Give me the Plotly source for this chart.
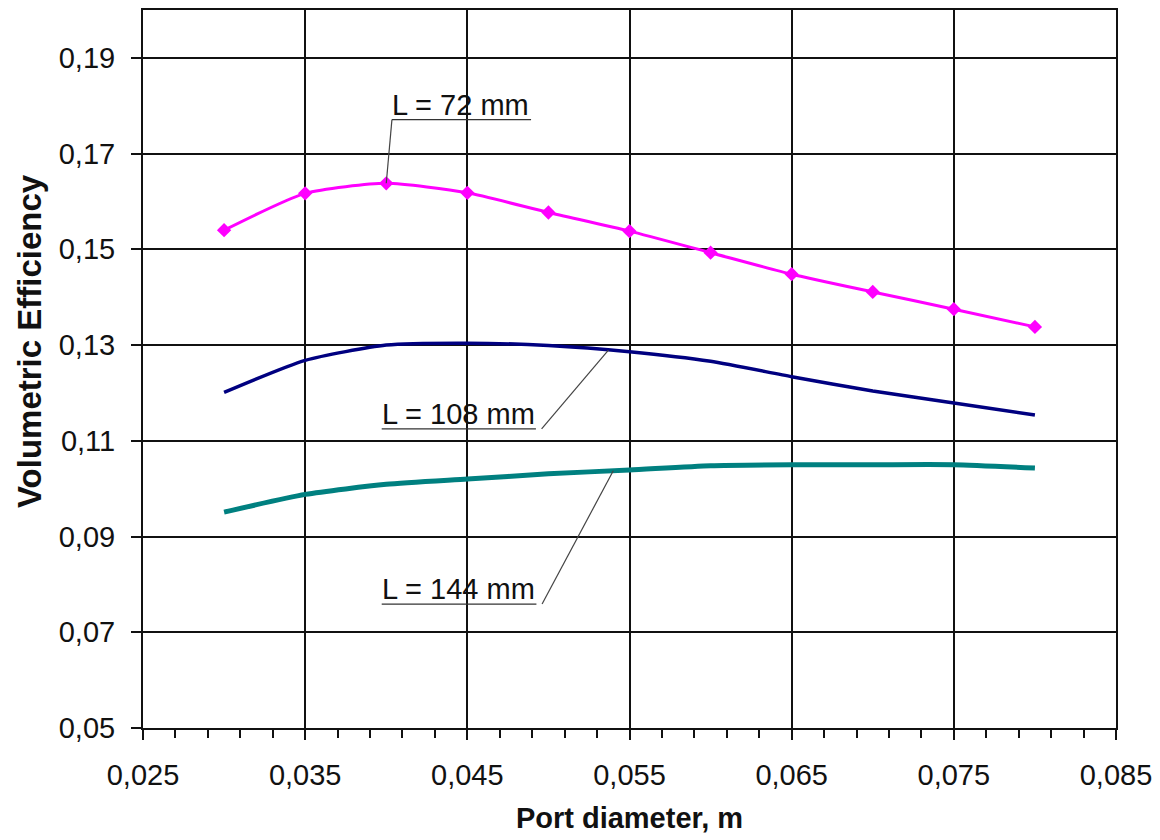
import numpy as np
import plotly.graph_objects as go

# Data
port_diameter = [0.030, 0.035, 0.040, 0.045, 0.050, 0.055, 0.060, 0.065, 0.070, 0.075, 0.080]
ve_72 = [0.1540, 0.1617, 0.1638, 0.1618, 0.1577, 0.1538, 0.1493, 0.1448, 0.1411, 0.1375, 0.1338]
ve_108 = [0.1201, 0.1268, 0.1300, 0.1304, 0.1299, 0.1286, 0.1266, 0.1234, 0.1204, 0.1179, 0.1154]
ve_144 = [0.0951, 0.0988, 0.1009, 0.1020, 0.1031, 0.1039, 0.1048, 0.1050, 0.1050, 0.1050, 0.1043]

series_names = ["L = 72 mm", "L = 108 mm", "L = 144 mm"]
x_ticks = [0.025, 0.035, 0.045, 0.055, 0.065, 0.075, 0.085]
y_ticks = [0.05, 0.07, 0.09, 0.11, 0.13, 0.15, 0.17, 0.19]

FONT = "Liberation Sans, Arial, sans-serif"

fig = go.Figure()
fig.add_trace(go.Scatter(x=port_diameter, y=ve_72, mode="lines+markers", name=series_names[0],
                         line=dict(color="#FF00FF", width=3, shape="spline", smoothing=0.6),
                         marker=dict(symbol="diamond", size=11, color="#FF00FF")))
fig.add_trace(go.Scatter(x=port_diameter, y=ve_108, mode="lines", name=series_names[1],
                         line=dict(color="#000080", width=3.5, shape="spline", smoothing=0.6)))
fig.add_trace(go.Scatter(x=port_diameter, y=ve_144, mode="lines", name=series_names[2],
                         line=dict(color="#008080", width=5, shape="spline", smoothing=0.6)))

# Label layout: (text, underline x0, underline x1, underline y, leader x on curve, series, leader from left?)
labels = [
    (series_names[0], 0.04035, 0.04893, 0.1771, 0.040, ve_72, True),
    (series_names[1], 0.03972, 0.04923, 0.1125, 0.0537, ve_108, False),
    (series_names[2], 0.03972, 0.04926, 0.0759, 0.0540, ve_144, False),
]
for text, ux0, ux1, uy, lx, ys, from_left in labels:
    ly = float(np.interp(lx, port_diameter, ys))
    fig.add_shape(type="line", x0=ux0, x1=ux1, y0=uy, y1=uy, xref="x", yref="y",
                  line=dict(color="#333333", width=1.3))
    sx = ux0 if from_left else ux1 + 0.00035
    fig.add_shape(type="line", x0=sx, x1=lx, y0=uy, y1=ly, xref="x", yref="y",
                  line=dict(color="#444444", width=1.2))
    fig.add_annotation(x=ux0, y=uy, xref="x", yref="y", text=text, showarrow=False,
                       xanchor="left", yanchor="bottom", yshift=-3, xshift=-2,
                       font=dict(family=FONT, size=29, color="#111111"))

# Y-axis title as rotated annotation (positioned as in the reference)
fig.add_annotation(x=0, y=0.539, xref="paper", yref="paper", xanchor="center", yanchor="middle",
                   xshift=-113, text="<b>Volumetric Efficiency</b>", textangle=-90, showarrow=False,
                   font=dict(family=FONT, size=33, color="#111111"))

fig.update_layout(
    width=1160, height=840,
    margin=dict(l=135, r=52, t=2, b=120, autoexpand=False),
    paper_bgcolor="white", plot_bgcolor="white",
    separators=", ",
    showlegend=False,
    font=dict(family=FONT, size=29, color="#111111"),
)
fig.update_xaxes(
    range=[0.025, 0.085], tickvals=x_ticks, tickformat=".3f",
    showgrid=True, gridcolor="#111111", gridwidth=1.6,
    showline=True, linecolor="#111111", linewidth=2, mirror=True,
    ticks="outside", ticklen=10, tickwidth=2, tickcolor="#111111",
    minor=dict(dtick=0.002, tick0=0.025, ticks="outside", ticklen=8, tickwidth=2,
               tickcolor="#111111", showgrid=False),
    ticklabelstandoff=10,
    zeroline=False, automargin=False,
    title=dict(text="<b>Port diameter, m</b>", font=dict(family=FONT, size=29), standoff=18),
)
fig.update_yaxes(
    range=[0.05, 0.2], tickvals=y_ticks, tickformat=".2f",
    showgrid=True, gridcolor="#111111", gridwidth=1.6,
    showline=True, linecolor="#111111", linewidth=2, mirror=True,
    ticks="outside", ticklen=10, tickwidth=2, tickcolor="#111111",
    ticklabelstandoff=10,
    zeroline=False, automargin=False,
)

fig.write_html("out.html")
